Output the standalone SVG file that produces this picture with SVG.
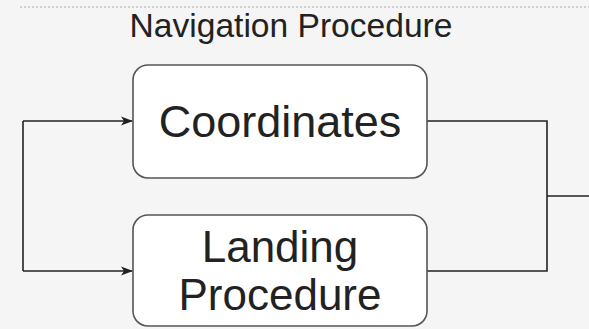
<svg xmlns="http://www.w3.org/2000/svg" width="589" height="329" viewBox="0 0 589 329">
  <style>
    .node rect { fill: #ffffff; stroke: #555555; stroke-width: 1.6; }
    .label { font-family: "Liberation Sans", Arial, sans-serif; fill: #222222; text-anchor: middle; }
    .edge { fill: none; stroke: #222222; stroke-width: 1.6; }
  </style>
  <defs>
    <marker id="arrow" viewBox="0 0 12 10" refX="11" refY="5" markerWidth="12" markerHeight="10" markerUnits="userSpaceOnUse" orient="auto">
      <path d="M0,0.5 L12,5 L0,9.5 L3,5 Z" fill="#222222"/>
    </marker>
  </defs>
  <rect width="589" height="329" fill="#f5f5f5"/>
  <line x1="20" y1="7" x2="589" y2="7" stroke="#aaaaaa" stroke-width="1" stroke-dasharray="2,2"/>
  <text class="label" x="291" y="37" font-size="33.6" fill="#333333">Navigation Procedure</text>

  <g id="edges">
    <path class="edge" d="M23,121 L23,271"/>
    <path class="edge" d="M23,121 L132,121" marker-end="url(#arrow)"/>
    <path class="edge" d="M23,271 L132,271" marker-end="url(#arrow)"/>
    <path class="edge" d="M427,121 L547,121 L547,271 L427,271"/>
    <path class="edge" d="M547,196 L589,196"/>
  </g>

  <g id="coordinates" class="node">
    <rect x="133" y="65" width="294" height="113" rx="15" ry="15"/>
    <text class="label" x="280" y="137" font-size="45">Coordinates</text>
  </g>

  <g id="landing-procedure" class="node">
    <rect x="133" y="215" width="294" height="111" rx="15" ry="15"/>
    <text class="label" x="280" y="262" font-size="44">Landing</text>
    <text class="label" x="280" y="310" font-size="44">Procedure</text>
  </g>
</svg>
